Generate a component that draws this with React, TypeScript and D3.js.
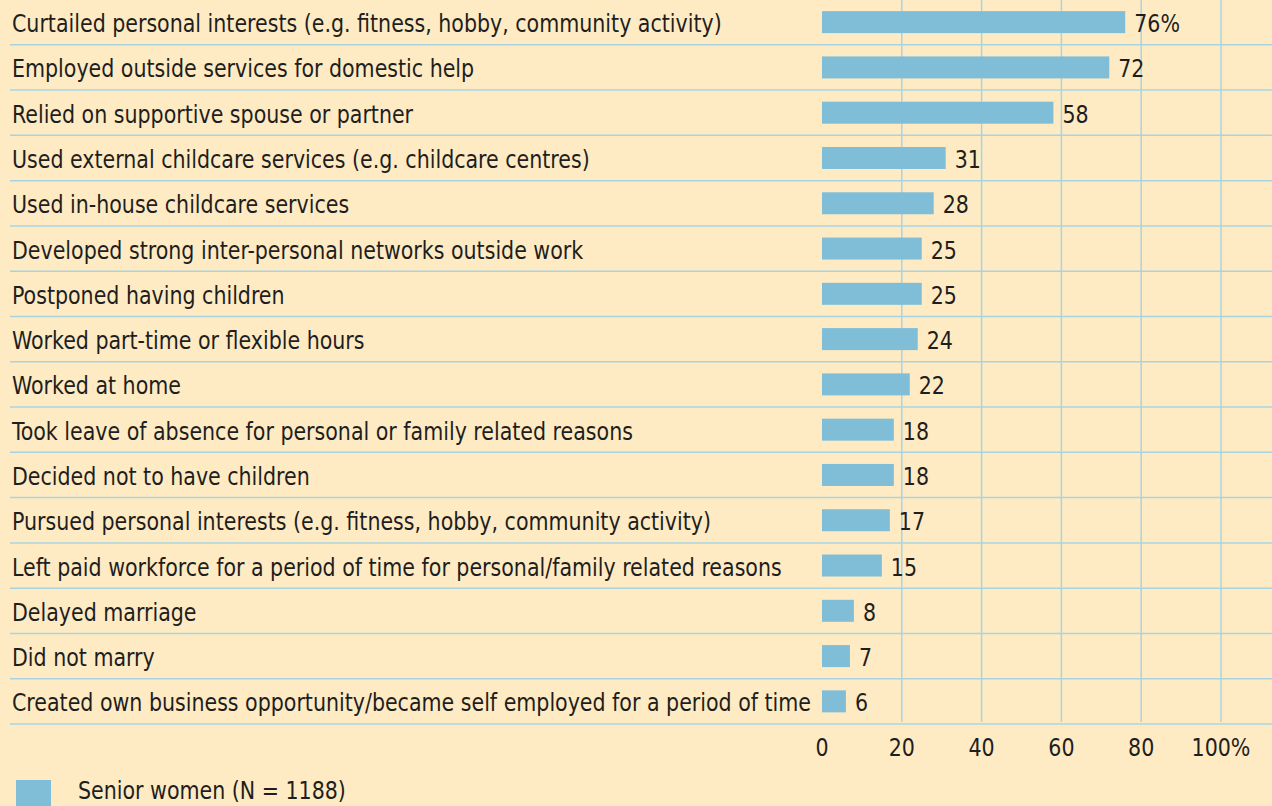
import React from 'react';
import * as d3 from 'd3';

const categories = [
  'Curtailed personal interests (e.g. fitness, hobby, community activity)',
  'Employed outside services for domestic help',
  'Relied on supportive spouse or partner',
  'Used external childcare services (e.g. childcare centres)',
  'Used in-house childcare services',
  'Developed strong inter-personal networks outside work',
  'Postponed having children',
  'Worked part-time or flexible hours',
  'Worked at home',
  'Took leave of absence for personal or family related reasons',
  'Decided not to have children',
  'Pursued personal interests (e.g. fitness, hobby, community activity)',
  'Left paid workforce for a period of time for personal/family related reasons',
  'Delayed marriage',
  'Did not marry',
  'Created own business opportunity/became self employed for a period of time',
];
const values = [76, 72, 58, 31, 28, 25, 25, 24, 22, 18, 18, 17, 15, 8, 7, 6];
const ticks = [0, 20, 40, 60, 80, 100];
const tickLabels = ['0', '20', '40', '60', '80', '100%'];
const seriesName = 'Senior women (N = 1188)';

const W = 1272, H = 806;
const BG = '#feebc3';
const BAR = '#80bed8';
const GRID = '#a8d4e2';
const TEXT = '#1e1e1e';
const FONT = '"DejaVu Sans Condensed", "DejaVu Sans", sans-serif';
const FS = 25;
const SX = 0.915; // squeeze to mimic the narrow face of the original

// text drawn with a horizontal squeeze
function T({ x, y, anchor = 'start', children }: { x: number; y: number; anchor?: string; children: React.ReactNode }) {
  return (
    <text transform={`translate(${x},${y}) scale(${SX},1)`} textAnchor={anchor} fontSize={FS} fill={TEXT}>
      {children}
    </text>
  );
}

export default function App() {
  const x = d3.scaleLinear().domain([0, 100]).range([822, 1221]);
  const y = d3.scaleBand<number>()
    .domain(d3.range(categories.length))
    .range([-0.5, 724])
    .paddingInner(0)
    .paddingOuter(0);
  const bh = 22;

  return (
    <>
      <style>{`body{margin:0}`}</style>
      <svg width={W} height={H} style={{ display: 'block' }} fontFamily={FONT}>
        <rect x={0} y={0} width={W} height={H} fill={BG} />

        {/* vertical grid */}
        {ticks.slice(1).map(t => (
          <line key={t} x1={x(t)} x2={x(t)} y1={0} y2={722} stroke={GRID} strokeWidth={1.5} />
        ))}

        {/* row dividers */}
        {categories.map((c, i) => (
          <line key={c} x1={10} x2={W} y1={(y(i) ?? 0) + y.bandwidth()} y2={(y(i) ?? 0) + y.bandwidth()}
            stroke={GRID} strokeWidth={1.5} />
        ))}

        {categories.map((c, i) => {
          const cy = (y(i) ?? 0) + y.bandwidth() / 2;
          return (
            <g key={c}>
              <T x={12} y={cy + 10}>{c}</T>
              <rect x={x(0)} y={cy - bh / 2} width={x(values[i]) - x(0)} height={bh} fill={BAR} />
              <T x={x(values[i]) + 9} y={cy + 10}>
                {values[i]}{i === 0 ? '%' : ''}
              </T>
            </g>
          );
        })}

        {/* x axis labels */}
        {ticks.map((t, i) => (
          <T key={t} x={x(t)} y={756} anchor="middle">{tickLabels[i]}</T>
        ))}

        {/* legend */}
        <rect x={16} y={780} width={35} height={26} fill={BAR} />
        <T x={78} y={799}>{seriesName}</T>
      </svg>
    </>
  );
}
